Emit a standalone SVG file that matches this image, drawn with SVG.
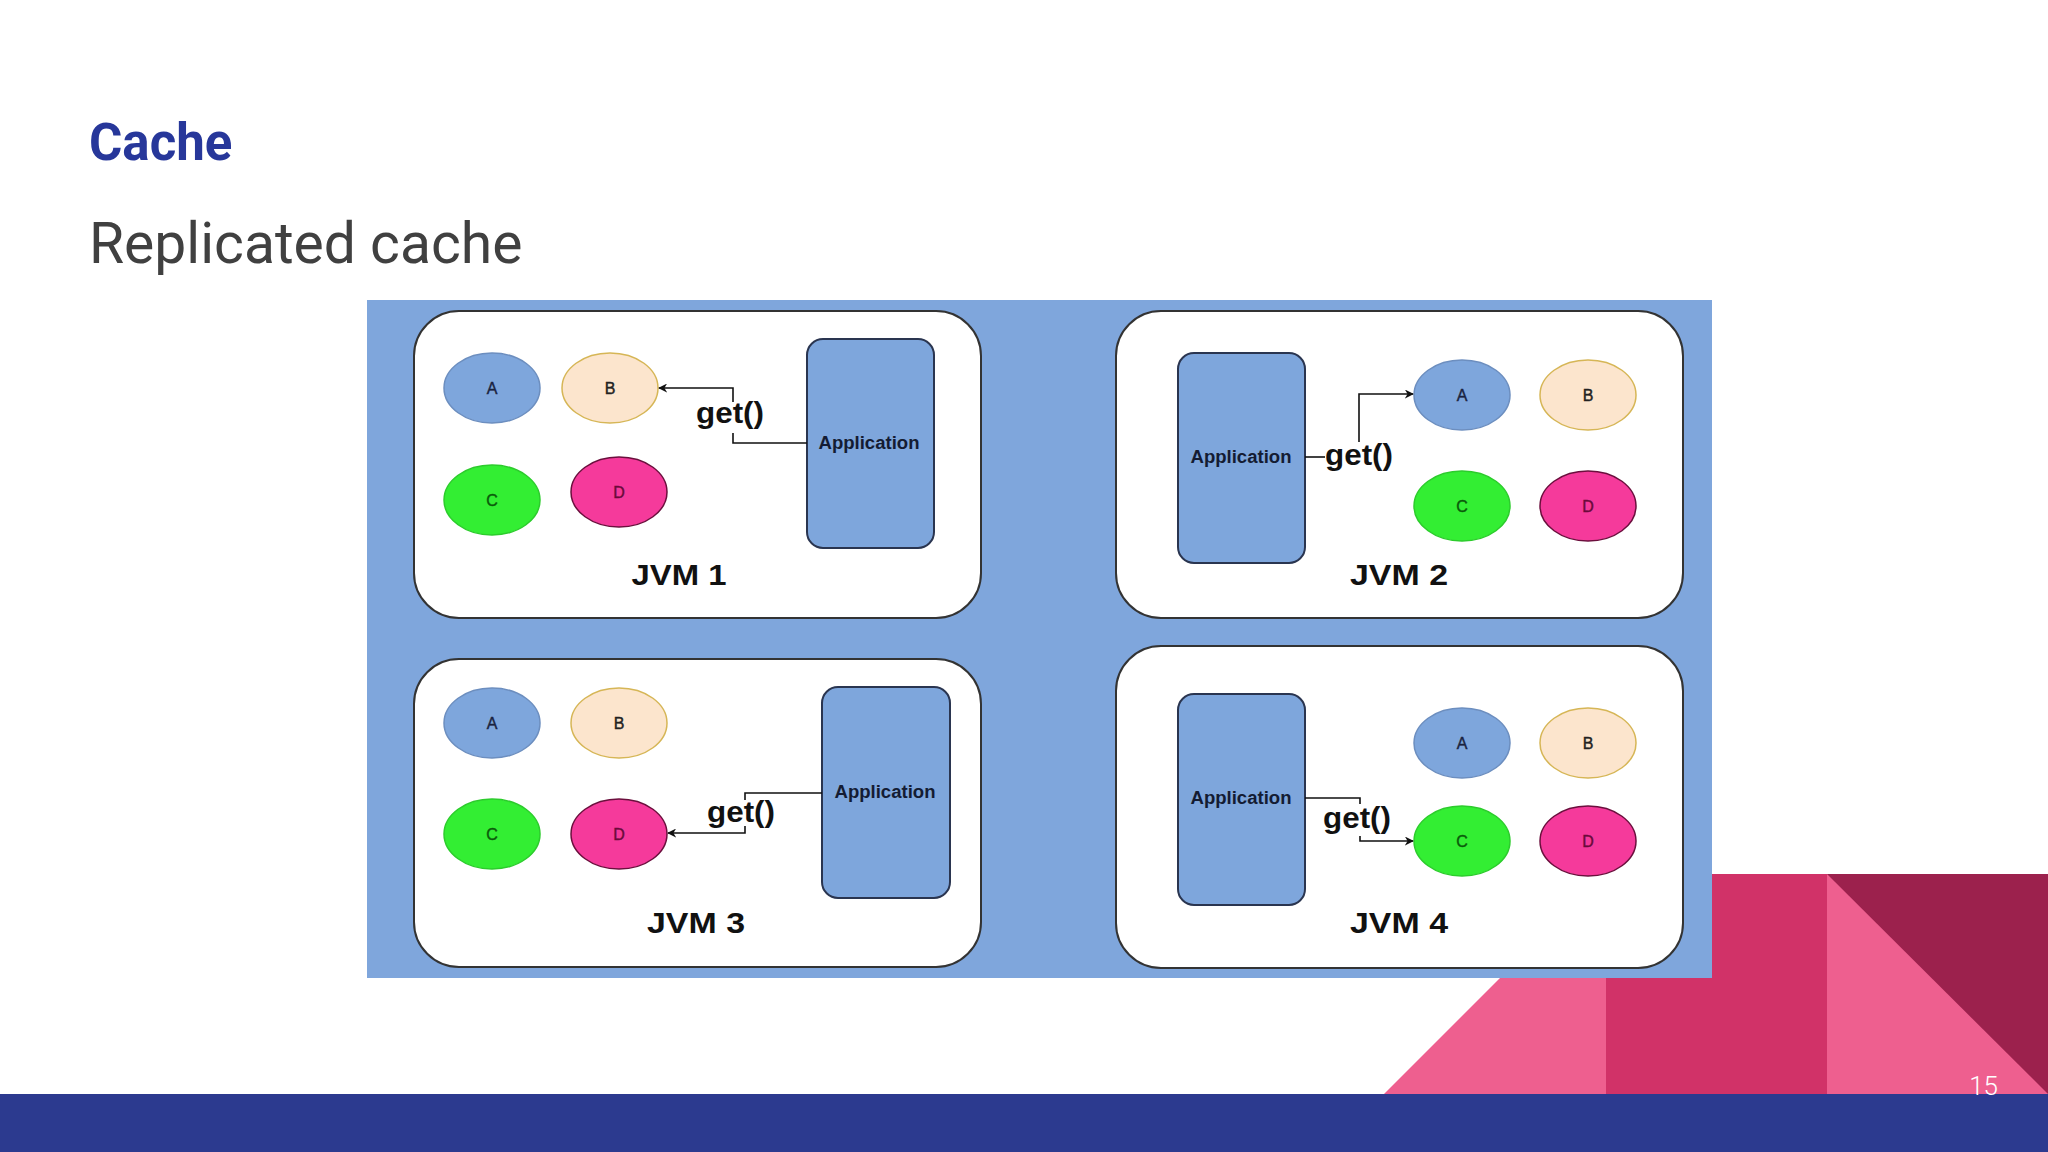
<svg xmlns="http://www.w3.org/2000/svg" width="2048" height="1152" viewBox="0 0 2048 1152">
<defs>
<marker id="arr" viewBox="0 0 10 10" refX="9" refY="5" markerWidth="9" markerHeight="9" markerUnits="userSpaceOnUse" orient="auto">
<path d="M0,0 L10,5 L0,10 L3,5 z" fill="#111"/>
</marker>
<style>
.jvm{fill:#ffffff;stroke:#333333;stroke-width:2}
.app{fill:#7ea6dc;stroke:#2a3550;stroke-width:2}
.ea{fill:#7ea6dc;stroke:#6c8ebf;stroke-width:1.5}
.eb{fill:#fce5cd;stroke:#d6b656;stroke-width:1.5}
.ec{fill:#33ee33;stroke:#2ccc2c;stroke-width:1.5}
.ed{fill:#f53a9b;stroke:#6b0f3d;stroke-width:1.5}
.lbl{font-family:"Liberation Sans",Arial,sans-serif;font-size:16px;text-anchor:middle;dominant-baseline:central;stroke-width:0.4}
.ta{fill:#1a2340;stroke:#1a2340}.tb{fill:#222222;stroke:#222222}.tc{fill:#0a5a0a;stroke:#0a5a0a}.td{fill:#6a0a3a;stroke:#6a0a3a}
.apptxt{font-family:"Liberation Sans",Arial,sans-serif;font-size:18px;font-weight:bold;fill:#141c33;text-anchor:middle;dominant-baseline:central}
.get{font-family:"Liberation Sans",Arial,sans-serif;font-size:29px;font-weight:bold;fill:#111}
.jt{font-family:"Liberation Sans",Arial,sans-serif;font-size:29px;font-weight:bold;fill:#111;text-anchor:middle}
.con{fill:none;stroke:#111;stroke-width:1.6}
</style>
</defs>
<rect width="2048" height="1152" fill="#ffffff"/>
<!-- decorative shapes -->
<polygon points="1384,1094 1606,872 1606,1094" fill="#ee5f8f"/>
<rect x="1606" y="874" width="221" height="220" fill="#d13268"/>
<rect x="1827" y="874" width="221" height="220" fill="#ee5f8f"/>
<polygon points="1827,874 2048,874 2048,1094" fill="#9c214d"/>
<rect x="0" y="1094" width="2048" height="58" fill="#2c3a8f"/>
<text x="1998" y="1095" font-family="Roboto,sans-serif" font-weight="300" font-size="26" fill="#ffffff" text-anchor="end">15</text>
<!-- titles -->
<text x="89" y="160" font-family="Roboto,sans-serif" font-weight="bold" font-size="51" fill="#27379a">Cache</text>
<text x="89" y="263" font-family="Roboto,sans-serif" font-size="57" fill="#404040">Replicated cache</text>
<!-- diagram background -->
<rect x="367" y="300" width="1345" height="678" fill="#7fa6dc"/>

<g id="jvm1">
<rect class="jvm" x="414" y="311" width="567" height="307" rx="45"/>
<g id="jvm1-a"><ellipse class="ea" cx="492" cy="388" rx="48" ry="35"/><text class="lbl ta" x="492" y="388">A</text></g>
<g id="jvm1-b"><ellipse class="eb" cx="610" cy="388" rx="48" ry="35"/><text class="lbl tb" x="610" y="388">B</text></g>
<g id="jvm1-c"><ellipse class="ec" cx="492" cy="500" rx="48" ry="35"/><text class="lbl tc" x="492" y="500">C</text></g>
<g id="jvm1-d"><ellipse class="ed" cx="619" cy="492" rx="48" ry="35"/><text class="lbl td" x="619" y="492">D</text></g>
<g id="jvm1-app"><rect class="app" x="807" y="339" width="127" height="209" rx="16"/><text class="apptxt" x="869" y="443" textLength="101" lengthAdjust="spacingAndGlyphs">Application</text></g>
<text class="jt" x="679" y="585" textLength="95" lengthAdjust="spacingAndGlyphs">JVM 1</text>
</g>

<g id="jvm2">
<rect class="jvm" x="1116" y="311" width="567" height="307" rx="45"/>
<g id="jvm2-app"><rect class="app" x="1178" y="353" width="127" height="210" rx="16"/><text class="apptxt" x="1241" y="457" textLength="101" lengthAdjust="spacingAndGlyphs">Application</text></g>
<g id="jvm2-a"><ellipse class="ea" cx="1462" cy="395" rx="48" ry="35"/><text class="lbl ta" x="1462" y="395">A</text></g>
<g id="jvm2-b"><ellipse class="eb" cx="1588" cy="395" rx="48" ry="35"/><text class="lbl tb" x="1588" y="395">B</text></g>
<g id="jvm2-c"><ellipse class="ec" cx="1462" cy="506" rx="48" ry="35"/><text class="lbl tc" x="1462" y="506">C</text></g>
<g id="jvm2-d"><ellipse class="ed" cx="1588" cy="506" rx="48" ry="35"/><text class="lbl td" x="1588" y="506">D</text></g>
<text class="jt" x="1399" y="585" textLength="98" lengthAdjust="spacingAndGlyphs">JVM 2</text>
</g>

<g id="jvm3">
<rect class="jvm" x="414" y="659" width="567" height="308" rx="45"/>
<g id="jvm3-a"><ellipse class="ea" cx="492" cy="723" rx="48" ry="35"/><text class="lbl ta" x="492" y="723">A</text></g>
<g id="jvm3-b"><ellipse class="eb" cx="619" cy="723" rx="48" ry="35"/><text class="lbl tb" x="619" y="723">B</text></g>
<g id="jvm3-c"><ellipse class="ec" cx="492" cy="834" rx="48" ry="35"/><text class="lbl tc" x="492" y="834">C</text></g>
<g id="jvm3-d"><ellipse class="ed" cx="619" cy="834" rx="48" ry="35"/><text class="lbl td" x="619" y="834">D</text></g>
<g id="jvm3-app"><rect class="app" x="822" y="687" width="128" height="211" rx="16"/><text class="apptxt" x="885" y="792" textLength="101" lengthAdjust="spacingAndGlyphs">Application</text></g>
<text class="jt" x="696" y="933" textLength="98" lengthAdjust="spacingAndGlyphs">JVM 3</text>
</g>

<g id="jvm4">
<rect class="jvm" x="1116" y="646" width="567" height="322" rx="45"/>
<g id="jvm4-app"><rect class="app" x="1178" y="694" width="127" height="211" rx="16"/><text class="apptxt" x="1241" y="798" textLength="101" lengthAdjust="spacingAndGlyphs">Application</text></g>
<g id="jvm4-a"><ellipse class="ea" cx="1462" cy="743" rx="48" ry="35"/><text class="lbl ta" x="1462" y="743">A</text></g>
<g id="jvm4-b"><ellipse class="eb" cx="1588" cy="743" rx="48" ry="35"/><text class="lbl tb" x="1588" y="743">B</text></g>
<g id="jvm4-c"><ellipse class="ec" cx="1462" cy="841" rx="48" ry="35"/><text class="lbl tc" x="1462" y="841">C</text></g>
<g id="jvm4-d"><ellipse class="ed" cx="1588" cy="841" rx="48" ry="35"/><text class="lbl td" x="1588" y="841">D</text></g>
<text class="jt" x="1399" y="933" textLength="98" lengthAdjust="spacingAndGlyphs">JVM 4</text>
</g>

<g id="connectors">
<path class="con" d="M807,443 H733 V433"/>
<path class="con" d="M733,402 V388 H659" marker-end="url(#arr)"/>
<text class="get" x="696" y="423" textLength="68" lengthAdjust="spacingAndGlyphs">get()</text>

<path class="con" d="M1305,457 H1325"/>
<path class="con" d="M1359,442 V394 H1413" marker-end="url(#arr)"/>
<text class="get" x="1325" y="465" textLength="68" lengthAdjust="spacingAndGlyphs">get()</text>

<path class="con" d="M822,793 H745 V800"/>
<path class="con" d="M745,826 V833 H668" marker-end="url(#arr)"/>
<text class="get" x="707" y="822" textLength="68" lengthAdjust="spacingAndGlyphs">get()</text>

<path class="con" d="M1305,798 H1360 V804"/>
<path class="con" d="M1360,836 V841 H1413" marker-end="url(#arr)"/>
<text class="get" x="1323" y="828" textLength="68" lengthAdjust="spacingAndGlyphs">get()</text>
</g>
</svg>
